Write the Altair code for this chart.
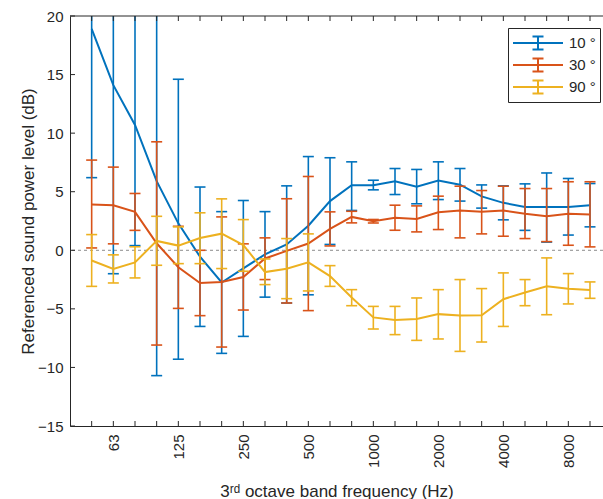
import altair as alt
import pandas as pd

# ---- data ----
bands = ["50", "63", "80", "100", "125", "160", "200", "250", "315", "400", "500",
         "630", "800", "1000", "1250", "1600", "2000", "2500", "3150", "4000",
         "5000", "6300", "8000", "10000"]
label_idx = [1, 4, 7, 10, 13, 16, 19, 22]

series = ["10 °", "30 °", "90 °"]
colors = ["#0072BD", "#D95319", "#EDB120"]

blue_mean = [18.9, 14.1, 10.7, 5.9, 2.3, -0.55, -2.75, -1.55, -0.35, 0.5, 2.1, 4.2,
             5.55, 5.55, 5.9, 5.42, 5.96, 5.6, 4.6, 4.05, 3.7, 3.7, 3.7, 3.85]
blue_low = [6.2, -2.0, 0.4, -10.7, -9.3, -6.5, -8.8, -7.35, -4.0, -4.5, -3.8, 0.5,
            3.4, 5.16, 4.76, 3.97, 4.33, 4.2, 3.6, 2.6, 1.7, 0.7, 1.3, 2.0]
blue_high = [31.6, 30.2, 21.0, 22.5, 14.6, 5.4, 3.3, 4.25, 3.3, 5.5, 8.0, 7.9,
             7.55, 5.98, 6.98, 6.9, 7.55, 6.98, 5.58, 5.5, 5.67, 6.6, 6.13, 5.7]

orange_mean = [3.9, 3.85, 3.28, 0.6, -1.45, -2.79, -2.7, -2.28, -0.7, -0.05, 0.58, 1.83,
               2.85, 2.48, 2.77, 2.68, 3.25, 3.39, 3.28, 3.39, 3.11, 2.91, 3.11, 3.05]
orange_low = [0.2, 0.55, 1.7, -8.09, -4.96, -5.58, -8.26, -5.1, -2.5, -4.5, -5.15, 0.37,
              2.34, 2.33, 1.71, 1.57, 1.77, 1.06, 1.4, 1.2, 1.0, 0.74, 0.43, 0.29]
orange_high = [7.7, 7.1, 4.85, 9.26, 2.05, 0.0, 2.85, 0.55, 1.06, 4.4, 6.3, 3.28,
               3.33, 2.63, 3.85, 3.79, 4.62, 5.47, 5.1, 5.47, 5.27, 5.27, 5.85, 5.85]

yellow_mean = [-0.87, -1.59, -1.03, 0.8, 0.4, 1.05, 1.42, 0.45, -1.86, -1.57, -1.03, -2.2,
               -4.03, -5.73, -5.95, -5.87, -5.45, -5.57, -5.55, -4.18, -3.6, -3.07, -3.28, -3.4]
yellow_low = [-3.08, -2.79, -2.36, -1.28, -1.14, -1.14, -1.56, -1.79, -2.93, -4.13, -3.47, -3.08,
              -4.73, -6.72, -7.2, -7.69, -7.57, -8.63, -7.83, -6.5, -4.73, -5.5, -4.58, -4.1]
yellow_high = [1.34, -0.39, 0.3, 2.9, 2.0, 3.2, 4.39, 2.62, -0.74, 1.0, 1.4, -1.31,
               -3.36, -4.79, -4.79, -4.07, -3.36, -2.5, -3.27, -1.93, -2.5, -0.65, -1.99, -2.7]

y_ticks = [-15, -10, -5, 0, 5, 10, 15, 20]

# ---- build tables ----
rows = []
for s, m, lo, hi in zip(series,
                        [blue_mean, orange_mean, yellow_mean],
                        [blue_low, orange_low, yellow_low],
                        [blue_high, orange_high, yellow_high]):
    for i in range(len(bands)):
        rows.append(dict(series=s, idx=i, band=bands[i], mean=m[i], low=lo[i], high=hi[i]))
df = pd.DataFrame(rows)
xticks_df = pd.DataFrame({"idx": list(range(len(bands)))})
yticks_df = pd.DataFrame({"v": y_ticks})

W, H = 533, 410
AX = "#262626"
FONT = "Liberation Sans"

xscale = alt.Scale(domain=[-1, 23.6], nice=False, zero=False)
yscale = alt.Scale(domain=[-15, 20], nice=False, zero=False)

label_expr = "[" + ",".join("'%s'" % b for b in bands) + "][datum.value]"

x_axis = alt.Axis(values=label_idx, labelExpr=label_expr, labelAngle=270, ticks=False,
                  grid=False, domainColor=AX, labelColor=AX, labelFontSize=15,
                  labelPadding=8, title="3ʳᵈ octave band frequency (Hz)",
                  titleFontSize=17, titleFontWeight="normal", titleColor=AX,
                  titleBaseline="alphabetic", titleY=70)
y_axis = alt.Axis(values=y_ticks, ticks=False, grid=False, domainColor=AX, labelColor=AX,
                  labelFontSize=15, labelPadding=7,
                  title="Referenced sound power level (dB)", titleFontSize=17,
                  titleFontWeight="normal", titleColor=AX, titleAngle=270,
                  titleBaseline="alphabetic", titleX=-37, titleY=H / 2)

legend = alt.Legend(
    title=None, orient="none", legendX=438, legendY=12,
    strokeColor=AX, fillColor="white", padding=4, cornerRadius=0,
    symbolType="M-2.5,0H2.5M0,-0.65V0.65M-0.55,-0.65H0.55M-0.55,0.65H0.55",
    symbolSize=400, symbolStrokeWidth=2, symbolFillColor="transparent",
    symbolOffset=15, labelOffset=20, labelFontSize=15, labelColor=AX,
    rowPadding=0, labelFont=FONT,
)
color = alt.Color("series:N", scale=alt.Scale(domain=series, range=colors), legend=legend)

base = alt.Chart(df)

zero_line = alt.Chart(pd.DataFrame({"v": [0]})).mark_rule(
    color="#8c8c8c", strokeDash=[3, 3], strokeWidth=1
).encode(y=alt.Y("v:Q", scale=yscale, axis=y_axis))

layers = [zero_line]
for s in series:
    sub = base.transform_filter(alt.datum.series == s)
    bars = sub.mark_rule(strokeWidth=1.6, clip=True).encode(
        x=alt.X("idx:Q", scale=xscale, axis=x_axis),
        y=alt.Y("low:Q", scale=yscale), y2="high:Q", color=color)
    cap_lo = sub.mark_rule(strokeWidth=1.6, clip=True, xOffset=-5.5, x2Offset=5.5).encode(
        x=alt.X("idx:Q", scale=xscale), x2="idx:Q",
        y=alt.Y("low:Q", scale=yscale), color=color)
    cap_hi = sub.mark_rule(strokeWidth=1.6, clip=True, xOffset=-5.5, x2Offset=5.5).encode(
        x=alt.X("idx:Q", scale=xscale), x2="idx:Q",
        y=alt.Y("high:Q", scale=yscale), color=color)
    line = sub.mark_line(strokeWidth=2, clip=True).encode(
        x=alt.X("idx:Q", scale=xscale), y=alt.Y("mean:Q", scale=yscale), color=color)
    layers += [bars, cap_lo, cap_hi, line]

# inward ticks (MATLAB style) and top border
bottom_ticks = alt.Chart(xticks_df).mark_rule(color=AX, strokeWidth=1).encode(
    x=alt.X("idx:Q", scale=xscale), y=alt.value(H), y2=alt.value(H - 5))
top_ticks = alt.Chart(xticks_df).mark_rule(color=AX, strokeWidth=1).encode(
    x=alt.X("idx:Q", scale=xscale), y=alt.value(0), y2=alt.value(5))
left_ticks = alt.Chart(yticks_df).mark_rule(color=AX, strokeWidth=1).encode(
    y=alt.Y("v:Q", scale=yscale), x=alt.value(0), x2=alt.value(5))
top_border = alt.Chart(pd.DataFrame({"v": [0]})).mark_rule(color=AX, strokeWidth=1).encode(
    x=alt.value(0), x2=alt.value(W), y=alt.value(0))
layers += [bottom_ticks, top_ticks, left_ticks, top_border]

chart = alt.layer(*layers).properties(
    width=W, height=H,
    autosize=alt.AutoSizeParams(type="none"),
    padding={"left": 70, "top": 16, "right": 0, "bottom": 73},
).configure(font=FONT).configure_view(strokeWidth=0).configure_axis(
    labelFont=FONT, titleFont=FONT)

chart.save("out.html", embed_options={"renderer": "svg", "actions": False})
